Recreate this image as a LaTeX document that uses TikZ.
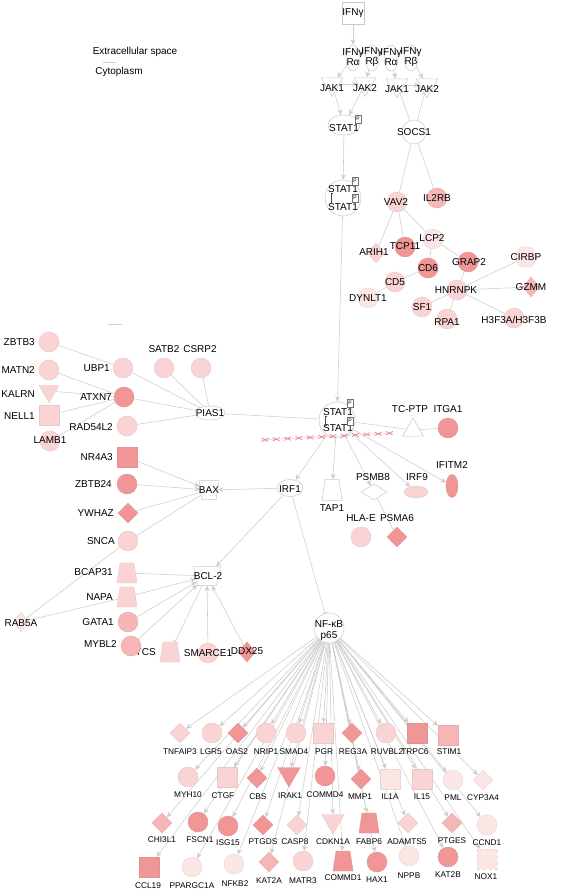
\documentclass[tikz,border=0pt]{standalone}
\usepackage{fontspec}
\setmainfont{Liberation Sans}
\usetikzlibrary{shapes.geometric,arrows.meta}
\definecolor{cA}{RGB}{252,229,229}
\definecolor{cB}{RGB}{250,212,212}
\definecolor{cC}{RGB}{246,182,182}
\definecolor{cD}{RGB}{241,150,150}
\definecolor{linec}{RGB}{205,205,205}
\definecolor{wline}{RGB}{200,200,200}
\definecolor{xred}{RGB}{232,120,130}
\pgfdeclarelayer{back}
\pgfdeclarelayer{edges}
\pgfdeclarelayer{labels}
\pgfsetlayers{back,edges,main,labels}
\newcommand\gene[6]{\node[#2] (#1) at (#3) {};\begin{pgfonlayer}{labels}\node[#4] (t#1) at (#5) {#6};\end{pgfonlayer}}
\tikzset{
  lbl/.style={font=\fontsize{10}{10.5}\selectfont, inner sep=0pt, align=center},
  slbl/.style={font=\fontsize{8.3}{9}\selectfont, inner sep=0pt},
  lbe/.style={lbl, anchor=east},
  con/.style={draw=linec, line width=0.55pt},
  arr/.style={con, -{Stealth[length=5.5pt,width=5pt]}},
  inh/.style={con, -{Bar[width=6pt]}},
  pk/.style={fill=#1, draw=#1!85!gray, line width=0.4pt},
  wh/.style={fill=white, draw=wline, line width=0.5pt},
  circ/.style={circle, minimum size=20pt, inner sep=0pt},
  sq/.style={rectangle, minimum size=20pt, inner sep=0pt},
  dia/.style={diamond, minimum width=20pt, minimum height=20pt, inner sep=0pt},
  tri/.style={regular polygon, regular polygon sides=3, shape border rotate=180, minimum size=25pt, inner sep=0pt},
  utri/.style={regular polygon, regular polygon sides=3, minimum size=24pt, inner sep=0pt},
  trap/.style={trapezium, trapezium stretches=true, trapezium left angle=78, trapezium right angle=78, minimum width=20pt, minimum height=20pt, inner sep=1pt},
  hexa/.style={regular polygon, regular polygon sides=6, minimum size=23pt, inner sep=0pt},
  ell/.style={ellipse, inner sep=0pt},
  pbox/.style={draw=black!55, fill=white, line width=0.4pt, font=\fontsize{5}{5}\selectfont, minimum width=6pt, minimum height=8pt, inner sep=0pt},
}
\begin{document}
\begin{tikzpicture}[x=1pt,y=-1pt]
\begin{pgfonlayer}{back}
\fill[white] (0,0) rectangle (567,891);
\end{pgfonlayer}
\useasboundingbox (0,0) rectangle (567,891);
% legend
\node[lbl] (ext) at (135,52) {Extracellular space};
\node[lbl] (cyt) at (119,72) {Cytoplasm};
\draw[linec, line width=0.6pt] (103,62) -- (116,62);
\draw[linec, line width=0.6pt] (108,324) -- (122,324);
% label hidden partly behind MYBL2
\node[lbe] (tcycs) at (156,652) {CYCS};
% top pathway
\gene{ifng}{sq, wh, minimum size=22pt}{353,13}{lbl}{353,13}{IFNγ}
\gene{r1}{ell, wh, minimum width=14pt, minimum height=26pt}{353,58}{lbl}{353,57}{IFNγ\\Rα}
\gene{r2}{ell, wh, minimum width=14pt, minimum height=26pt}{372,58}{lbl}{372,57}{IFNγ\\Rβ}
\gene{r3}{ell, wh, minimum width=14pt, minimum height=26pt}{391,58}{lbl}{391,57}{IFNγ\\Rα}
\gene{r4}{ell, wh, minimum width=14pt, minimum height=26pt}{411,58}{lbl}{411,57}{IFNγ\\Rβ}
\gene{jak1a}{tri, wh}{332,84}{lbl}{332,88}{JAK1}
\gene{jak2a}{tri, wh}{365,84}{lbl}{365,88}{JAK2}
\gene{jak1b}{tri, wh}{397,85}{lbl}{397,89}{JAK1}
\gene{jak2b}{tri, wh}{427,85}{lbl}{427,89}{JAK2}
\gene{stat1}{ell, wh, minimum width=32pt, minimum height=20pt}{344,125}{lbl}{344,128}{STAT1}
\gene{socs1}{circ, wh, minimum size=24pt}{414,132}{lbl}{414,132}{SOCS1}
\node[circ, wh, minimum size=36pt] (dimA) at (343,198) {};
% right cluster
\gene{vav2}{circ, pk=cB}{397,202}{lbl}{396,202}{VAV2}
\gene{il2rb}{circ, pk=cC}{437,198}{lbl}{437,198}{IL2RB}
\gene{arih1}{dia, pk=cB, minimum width=17pt}{376,253}{lbl}{374,252}{ARIH1}
\gene{tcp11}{circ, pk=cD}{405,247}{lbl}{405,246}{TCP11}
\gene{lcp2}{circ, pk=cA}{433,239}{lbl}{432,238}{LCP2}
\gene{grap2}{circ, pk=cD}{468,262}{lbl}{469,262}{GRAP2}
\gene{cd6}{circ, pk=cD}{428,268}{lbl}{428,268}{CD6}
\gene{cd5}{circ, pk=cB}{395,282}{lbl}{395,282}{CD5}
\gene{dynlt1}{circ, pk=cA}{368,298}{lbl}{368,298}{DYNLT1}
\gene{hnrnpk}{circ, pk=cB}{457,290}{lbl}{456,290}{HNRNPK}
\gene{cirbp}{hexa, pk=cA}{526,257}{lbl}{526,257}{CIRBP}
\gene{gzmm}{dia, pk=cC, minimum width=16pt}{531,287}{lbl}{531,287}{GZMM}
\gene{sf1}{circ, pk=cB}{422,307}{lbl}{422,307}{SF1}
\gene{rpa1}{circ, pk=cB}{447,319}{lbl}{447,322}{RPA1}
\gene{h3f3}{circ, pk=cB}{514,318}{lbl}{514,320}{H3F3A/H3F3B}
% left cluster
\gene{zbtb3}{circ, pk=cB}{49,342}{lbe}{35,342}{ZBTB3}
\gene{matn2}{circ, pk=cB}{49,370}{lbe}{35,370}{MATN2}
\gene{kalrn}{tri, pk=cB, minimum size=23pt}{49,391}{lbe}{35,394}{KALRN}
\gene{nell1}{sq, pk=cB}{49,415}{lbe}{35,416}{NELL1}
\gene{lamb1}{circ, pk=cB}{50,441}{lbl}{50,440}{LAMB1}
\gene{ubp1}{circ, pk=cB}{123,368}{lbe}{110,368}{UBP1}
\gene{atxn7}{circ, pk=cD}{124,397}{lbe}{112,397}{ATXN7}
\gene{rad54l2}{circ, pk=cB}{127,426}{lbe}{113,427}{RAD54L2}
\gene{nr4a3}{sq, pk=cD}{127,457}{lbe}{113,457}{NR4A3}
\gene{satb2}{circ, pk=cB}{164,368}{lbl}{164,349}{SATB2}
\gene{csrp2}{circ, pk=cB}{201,368}{lbl}{200,349}{CSRP2}
\gene{pias1}{ell, wh, minimum width=30pt, minimum height=14pt}{210,413}{lbl}{210,413}{PIAS1}
% STAT1 dimer B and targets
\node[circ, wh, minimum size=36pt] (dimB) at (337,420) {};
\gene{tcptp}{utri, wh}{413,430}{lbl}{410,409}{TC-PTP}
\gene{itga1}{circ, pk=cD}{448,428}{lbl}{448,409}{ITGA1}
\gene{irf1}{ell, wh, minimum width=26pt, minimum height=17pt}{290,488}{lbl}{290,489}{IRF1}
\gene{tap1}{trap, wh, minimum height=21pt}{332,490}{lbl}{332,508}{TAP1}
\gene{psmb8}{dia, wh, minimum width=26pt, minimum height=16pt}{374,492}{lbl}{373,477}{PSMB8}
\gene{irf9}{ell, pk=cB, minimum width=24pt, minimum height=12pt}{416,492}{lbl}{417,477}{IRF9}
\gene{ifitm2}{ell, pk=cD, minimum width=12pt, minimum height=23pt}{452,486}{lbl}{452,465}{IFITM2}
\gene{hlae}{circ, pk=cB}{361,537}{lbl}{361,518}{HLA-E}
\gene{psma6}{dia, pk=cD}{397,537}{lbl}{397,518}{PSMA6}
% BAX / BCL-2
\gene{bax}{trap, wh, shape border rotate=180, minimum width=20pt, minimum height=19pt}{209,490}{lbl}{209,490}{BAX}
\gene{bcl2}{trap, wh, shape border rotate=180, minimum width=27pt, minimum height=19pt}{207,576}{lbl}{208,576}{BCL-2}
\gene{zbtb24}{circ, pk=cD}{127,484}{lbe}{112,484}{ZBTB24}
\gene{ywhaz}{dia, pk=cD}{128,513}{lbe}{114,513}{YWHAZ}
\gene{snca}{circ, pk=cB}{128,541}{lbe}{115,541}{SNCA}
\gene{bcap31}{trap, pk=cB}{127,573}{lbe}{113,572}{BCAP31}
\gene{napa}{trap, pk=cB}{127,597}{lbe}{113,597}{NAPA}
\gene{gata1}{circ, pk=cC}{128,622}{lbe}{114,622}{GATA1}
\gene{mybl2}{circ, pk=cC}{131,646}{lbe}{117,644}{MYBL2}
\gene{rab5a}{dia, pk=cA, minimum width=15pt, minimum height=20pt}{21,622}{lbl}{21,623}{RAB5A}
\node[trap, pk=cB] (cycs) at (170,652) {};
\gene{smarce1}{circ, pk=cB}{208,653}{lbl}{208,653}{SMARCE1}
\gene{ddx25}{dia, pk=cD, minimum width=17pt}{247,652}{lbl}{247,651}{DDX25}
% NF-kB
\node[ell, wh, minimum width=30pt, minimum height=30pt] (nfkb) at (329,628) {};
% row 1
\gene{tnfaip3}{dia, pk=cB}{180,733}{slbl}{180,752}{TNFAIP3}
\gene{lgr5}{circ, pk=cB}{212,733}{slbl}{211,752}{LGR5}
\gene{oas2}{dia, pk=cD}{238,733}{slbl}{237,752}{OAS2}
\gene{nrip1}{circ, pk=cB}{266,733}{slbl}{266,752}{NRIP1}
\gene{smad4}{circ, pk=cB}{296,733}{slbl}{294,752}{SMAD4}
\gene{pgr}{sq, pk=cB}{323,733}{slbl}{324,752}{PGR}
\gene{reg3a}{dia, pk=cD}{352,733}{slbl}{353,752}{REG3A}
\gene{ruvbl2}{circ, pk=cB}{386,733}{slbl}{387,752}{RUVBL2}
\gene{trpc6}{sq, pk=cD}{417,733}{slbl}{415,752}{TRPC6}
\gene{stim1}{sq, pk=cC}{448,735}{slbl}{449,752}{STIM1}
% row 2
\gene{myh10}{circ, pk=cB}{188,777}{slbl}{188,795}{MYH10}
\gene{ctgf}{sq, pk=cB}{227,777}{slbl}{223,796}{CTGF}
\gene{cbs}{dia, pk=cD}{257,778}{slbl}{258,797}{CBS}
\gene{irak1}{tri, pk=cD, minimum size=26pt}{289,774}{slbl}{290,796}{IRAK1}
\gene{commd4}{circ, pk=cD}{325,776}{slbl}{325,795}{COMMD4}
\gene{mmp1}{dia, pk=cD}{361,779}{slbl}{360,797}{MMP1}
\gene{il1a}{sq, pk=cA}{390,779}{slbl}{390,797}{IL1A}
\gene{il15}{sq, pk=cB}{422,779}{slbl}{422,797}{IL15}
\gene{pml}{circ, pk=cA}{453,780}{slbl}{453,798}{PML}
\gene{cyp3a4}{dia, pk=cA}{483,780}{slbl}{483,798}{CYP3A4}
% row 3
\gene{chi3l1}{dia, pk=cC}{162,823}{slbl}{162,840}{CHI3L1}
\gene{fscn1}{circ, pk=cD}{198,822}{slbl}{200,840}{FSCN1}
\gene{isg15}{circ, pk=cD}{228,826}{slbl}{228,843}{ISG15}
\gene{ptgds}{dia, pk=cD}{263,825}{slbl}{263,842}{PTGDS}
\gene{casp8}{dia, pk=cB}{297,825}{slbl}{295,842}{CASP8}
\gene{cdkn1a}{tri, pk=cB, minimum size=26pt}{333,821}{slbl}{333,842}{CDKN1A}
\gene{fabp6}{trap, pk=cD}{369,823}{slbl}{369,842}{FABP6}
\gene{adamts5}{dia, pk=cB}{408,823}{slbl}{407,842}{ADAMTS5}
\gene{ptges}{dia, pk=cC}{452,823}{slbl}{452,841}{PTGES}
\gene{ccnd1}{circ, pk=cA}{487,825}{slbl}{487,843}{CCND1}
% row 4
\gene{ccl19}{sq, pk=cD}{149,867}{slbl}{148,886}{CCL19}
\gene{ppargc1a}{circ, pk=cA}{192,867}{slbl}{192,886}{PPARGC1A}
\gene{nfkb2}{circ, pk=cA}{234,864}{slbl}{235,884}{NFKB2}
\gene{kat2a}{dia, pk=cC}{269,862}{slbl}{269,881}{KAT2A}
\gene{matr3}{circ, pk=cB}{303,861}{slbl}{303,881}{MATR3}
\gene{commd1}{trap, pk=cD}{343,861}{slbl}{343,878}{COMMD1}
\gene{hax1}{circ, pk=cD}{377,862}{slbl}{377,880}{HAX1}
\gene{nppb}{circ, pk=cA}{409,856}{slbl}{409,876}{NPPB}
\gene{kat2b}{circ, pk=cD}{448,857}{slbl}{448,875}{KAT2B}
\gene{nox1}{sq, pk=cA, dashed}{487,859}{slbl}{486,877}{NOX1}
% labels and phospho boxes on top
\begin{pgfonlayer}{labels}
\node[lbl] (tdimA1) at (343,189) {STAT1};
\node[lbl] (tdimA2) at (343,207) {STAT1};
\draw[black!70, line width=0.5pt] (332.5,193) -- (331,193) -- (331,203) -- (332.5,203);
\node[pbox] (pA0) at (358,119) {P};
\node[pbox] (pA1) at (355,181) {P};
\node[pbox] (pA2) at (355,198) {P};
\node[lbl] (tdimB1) at (338,412) {STAT1};
\node[lbl] (tdimB2) at (338,428) {STAT1};
\draw[black!70, line width=0.5pt] (327,416) -- (325.5,416) -- (325.5,425) -- (327,425);
\node[pbox] (pB1) at (350,403) {P};
\node[pbox] (pB2) at (350,421) {P};
\node[lbl] (tnfkb1) at (329,624) {NF-κB};
\node[lbl] (tnfkb2) at (329,636) {p65};
\end{pgfonlayer}
% red boundary
\draw[xred!55, line width=0.4pt] (262,440) -- (393,433);
\foreach \i in {0,...,11} {
  \pgfmathsetmacro\cx{265+\i*11.3}
  \pgfmathsetmacro\cy{440-(\cx-262)*7/131}
  \draw[xred, line width=0.6pt] (\cx-3.5,\cy-1.8) -- (\cx+3.5,\cy+1.8) (\cx-3.5,\cy+1.8) -- (\cx+3.5,\cy-1.8);
}
% connectors
\begin{pgfonlayer}{edges}
\draw[arr] (ifng) -- (r1);
\draw[arr] (r1) -- (jak1a);
\draw[arr] (r2) -- (jak2a);
\draw[arr] (jak1a) -- (jak2a);
\draw[arr] (r3) -- (jak1b);
\draw[arr] (r4) -- (jak2b);
\draw[arr] (jak1b) -- (jak2b);
\draw[arr] (jak1a) -- (stat1);
\draw[arr] (jak2a) -- (stat1);
\draw[inh] (socs1) -- (jak1b);
\draw[inh] (socs1) -- (jak2b);
\draw[arr] (stat1) -- (dimA);
\draw[arr] (dimA) -- (dimB);
\foreach \a/\b in {socs1/vav2, socs1/il2rb, vav2/arih1, vav2/tcp11, vav2/lcp2, lcp2/cd6, lcp2/grap2, cd6/cd5, cd5/dynlt1, grap2/hnrnpk, hnrnpk/cirbp, hnrnpk/gzmm, hnrnpk/sf1, hnrnpk/rpa1, hnrnpk/h3f3, zbtb3/ubp1, matn2/atxn7, kalrn/atxn7, nell1/atxn7, lamb1/atxn7, ubp1/pias1, atxn7/pias1, rad54l2/pias1, satb2/pias1, csrp2/pias1, pias1/dimB, dimB/tcptp, tcptp/itga1, psmb8/psma6, ywhaz/bax, snca/bax, bcap31/bcl2, rab5a/snca, rab5a/napa}
  \draw[con] (\a) -- (\b);
\foreach \a/\b in {dimB/irf1, dimB/tap1, dimB/psmb8, dimB/irf9, dimB/ifitm2, irf1/bax, irf1/bcl2, nr4a3/bax, zbtb24/bax, napa/bcl2, gata1/bcl2, mybl2/bcl2, smarce1/bcl2, ddx25/bcl2}
  \draw[arr] (\a) -- (\b);
\draw[inh] (irf1) -- (nfkb);
\draw[inh] (bcl2) -- (cycs);
\foreach \t in {tnfaip3, lgr5, oas2, nrip1, smad4, pgr, reg3a, ruvbl2, trpc6, stim1, myh10, ctgf, cbs, irak1, commd4, mmp1, il1a, il15, pml, cyp3a4, chi3l1, fscn1, isg15, ptgds, casp8, cdkn1a, fabp6, adamts5, ptges, ccnd1, ccl19, ppargc1a, nfkb2, kat2a, matr3, commd1, hax1, nppb, kat2b, nox1}
  \draw[arr] (nfkb) -- (\t);
\end{pgfonlayer}
\end{tikzpicture}
\end{document}
